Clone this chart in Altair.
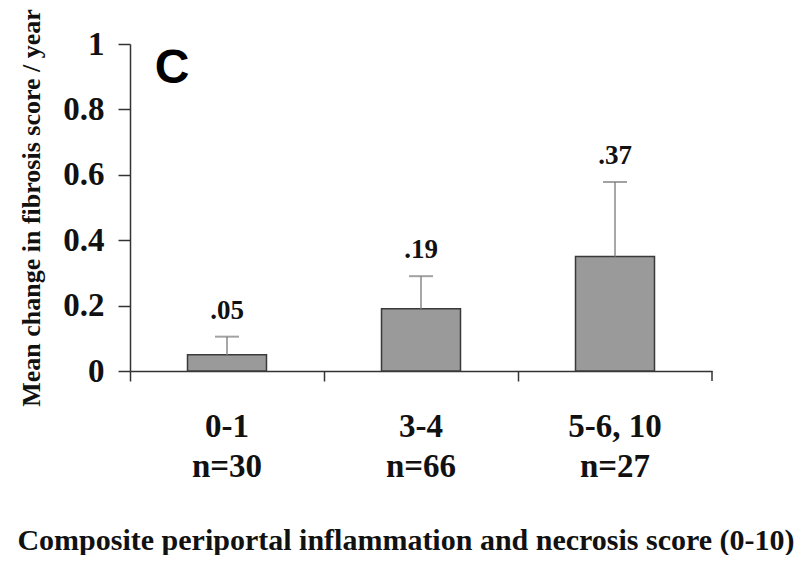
import altair as alt
import pandas as pd

# ---- data ----
groups = ["0-1", "3-4", "5-6, 10"]
n_labels = ["n=30", "n=66", "n=27"]
means = [0.05, 0.19, 0.35]
upper = [0.105, 0.29, 0.578]
value_labels = [".05", ".19", ".37"]
y_ticks = [0, 0.2, 0.4, 0.6, 0.8, 1]

y_title = "Mean change in fibrosis score / year"
x_title = "Composite periportal inflammation and necrosis score (0-10)"
panel_letter = "C"

df = pd.DataFrame({
    "group": groups,
    "n": n_labels,
    "mean": means,
    "upper": upper,
    "label": value_labels,
})
title_df = pd.DataFrame({"t": [x_title]})
letter_df = pd.DataFrame({"t": [panel_letter]})

SERIF = "Liberation Serif"

x_enc = alt.X(
    "group:N",
    sort=groups,
    scale=alt.Scale(paddingInner=0, paddingOuter=0),
    axis=alt.Axis(labels=False, title=None, tickSize=10, bandPosition=0,
                  domainColor="#333", tickColor="#333", domainWidth=1.5, tickWidth=1.5),
)
y_enc = alt.Y(
    "mean:Q",
    scale=alt.Scale(domain=[0, 1], nice=False),
    axis=alt.Axis(
        values=y_ticks, format="~g", grid=False,
        tickSize=12, labelPadding=14,
        labelFont=SERIF, labelFontWeight="bold", labelFontSize=33, labelColor="#111",
        domainColor="#333", tickColor="#333", domainWidth=1.5, tickWidth=1.5,
        title=y_title, titleFont=SERIF, titleFontSize=26, titleFontWeight="bold",
        titleColor="#111", titleAngle=270, titleX=-91, titleY=163.5,
        titleBaseline="alphabetic", titleAlign="center",
    ),
)

base = alt.Chart(df)

bars = base.mark_bar(size=79, color="#9a9a9a", stroke="#3a3a3a", strokeWidth=1.5).encode(
    x=x_enc, y=y_enc
)
whisker = base.mark_rule(color="#8a8a8a", strokeWidth=1.5).encode(
    x=alt.X("group:N", sort=groups), y="mean:Q", y2="upper:Q"
)
caps = base.mark_tick(orient="horizontal", size=24, thickness=2, color="#7a7a7a").encode(
    x=alt.X("group:N", sort=groups), y="upper:Q"
)
vlabels = base.mark_text(
    dy=-18, baseline="alphabetic", font=SERIF, fontWeight="bold", fontSize=27, color="#111"
).encode(x=alt.X("group:N", sort=groups), y="upper:Q", text="label:N")

cat1 = base.mark_text(
    baseline="alphabetic", font=SERIF, fontWeight="bold", fontSize=33, color="#111"
).encode(x=alt.X("group:N", sort=groups), y=alt.value(393), text="group:N")
cat2 = base.mark_text(
    baseline="alphabetic", font=SERIF, fontWeight="bold", fontSize=33, color="#111"
).encode(x=alt.X("group:N", sort=groups), y=alt.value(433), text="n:N")

end_tick = alt.Chart(letter_df).mark_rule(color="#333", strokeWidth=1.5).encode(
    x=alt.value(582), y=alt.value(327), y2=alt.value(337)
)

xtitle = alt.Chart(title_df).mark_text(
    baseline="alphabetic", align="center", font=SERIF, fontWeight="bold", fontSize=30, color="#111"
).encode(x=alt.value(276), y=alt.value(506), text="t:N")

letter = alt.Chart(letter_df).mark_text(
    baseline="alphabetic", align="center", font="Liberation Sans", fontWeight="bold",
    fontSize=48, color="#000"
).encode(x=alt.value(42), y=alt.value(39), text="t:N")

chart = alt.layer(
    bars, whisker, caps, vlabels, cat1, cat2, end_tick, xtitle, letter
).properties(
    width=582,
    height=327,
    autosize=alt.AutoSizeParams(type="none"),
    padding={"left": 122, "top": 36, "right": 90, "bottom": 184},
).configure(background="white").configure_view(stroke=None)

chart.save("out.html", embed_options={"renderer": "svg", "actions": False})
